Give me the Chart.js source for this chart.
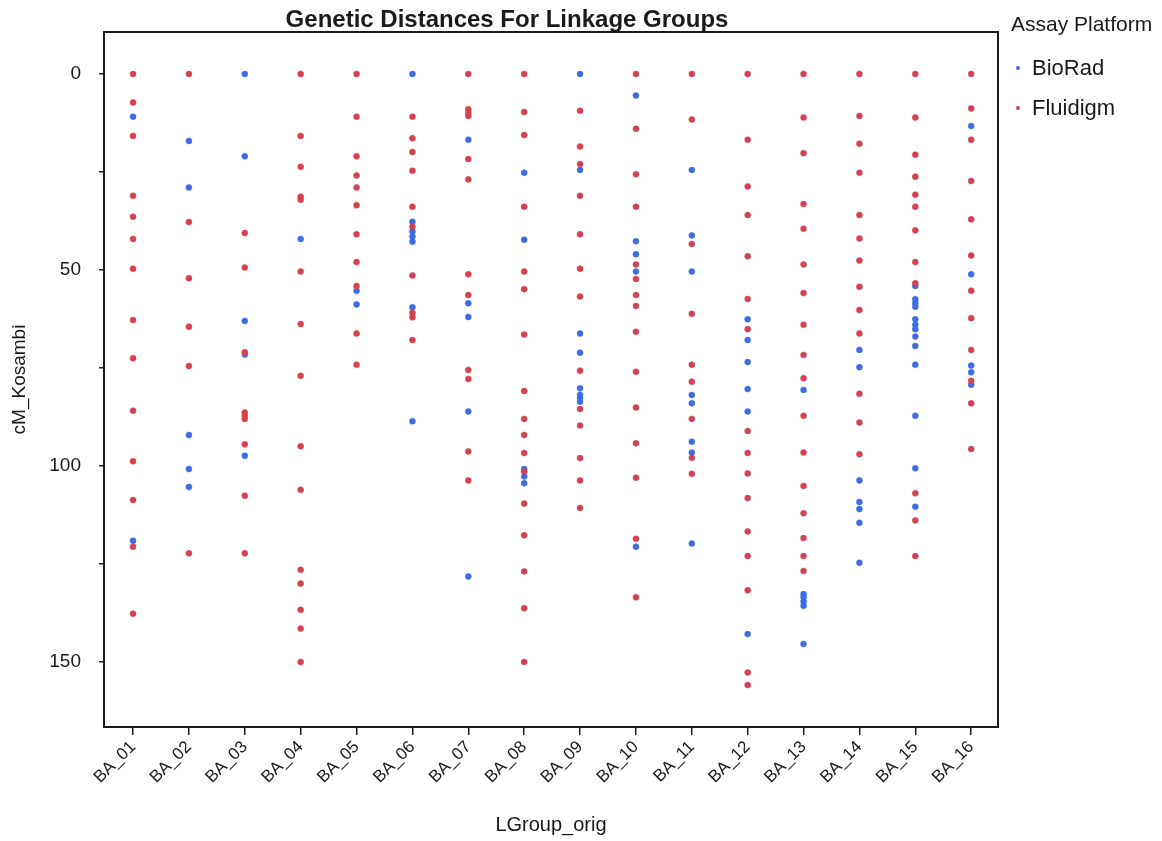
<!DOCTYPE html>
<html>
<head>
<meta charset="utf-8">
<script src="https://cdn.jsdelivr.net/npm/chart.js@4/dist/chart.umd.min.js"></script>
<style>
  body { margin: 0; background: #fff; }
  canvas { display: block; }
</style>
</head>
<body>
<canvas id="chart" width="1162" height="841"></canvas>
<script>
// linkage groups on the x axis
const groups = ['BA_01', 'BA_02', 'BA_03', 'BA_04', 'BA_05', 'BA_06', 'BA_07', 'BA_08',
                'BA_09', 'BA_10', 'BA_11', 'BA_12', 'BA_13', 'BA_14', 'BA_15', 'BA_16'];

// cM_Kosambi positions per group, BioRad markers
const bioRadCM = [
    [10.9, 119.1],
    [17.1, 29, 92.1, 100.8, 105.4],
    [0, 21, 63, 71.6, 97.4],
    [42.1],
    [55.3, 58.8],
    [0, 37.7, 40.2, 41.5, 42.8, 59.5, 88.6],
    [16.8, 58.5, 62, 86.1, 128.2],
    [25.2, 42.3, 100.8, 102.7, 104.4],
    [0, 24.5, 66.2, 71.1, 80.2, 81.9, 82.7, 83.6],
    [5.5, 42.7, 46, 50.4, 120.6],
    [24.5, 41.2, 50.4, 81.9, 84, 93.8, 96.6, 119.8],
    [62.6, 67.9, 73.5, 80.4, 86.1, 142.9],
    [80.6, 132.7, 133.5, 134.6, 135.7, 145.4],
    [70.4, 74.8, 103.7, 109.2, 111, 114.5, 124.7],
    [54.1, 57.5, 58.5, 59.4, 62.6, 64, 65.1, 67, 69.4, 74.2, 87.2, 100.6, 110.4],
    [13.3, 51.1, 74.4, 76.1, 79.3]
];

// cM_Kosambi positions per group, Fluidigm markers
const fluidigmCM = [
    [0, 7.3, 15.8, 31.1, 36.4, 42.1, 49.7, 62.8, 72.5, 85.9, 98.8, 108.7, 120.6, 137.7],
    [0, 37.8, 52.1, 64.5, 74.5, 122.3],
    [40.6, 49.4, 71, 86.4, 87.2, 88, 94.5, 107.6, 122.3],
    [0, 15.8, 23.7, 31.3, 32.1, 50.4, 63.8, 77, 95, 106.1, 126.5, 130, 136.7, 141.5, 150],
    [0, 10.9, 21, 25.9, 29, 33.5, 40.9, 48, 54.1, 66.2, 74.2],
    [10.9, 16.4, 19.9, 24.7, 33.9, 39, 51.4, 60.9, 62.1, 67.9],
    [0, 9, 9.9, 10.7, 21.7, 26.9, 51.1, 56.4, 75.5, 77.8, 96.3, 103.7],
    [0, 9.7, 15.6, 33.9, 50.4, 54.9, 66.5, 80.9, 88, 92.1, 96.7, 101.4, 109.6, 117.7, 126.9, 136.3, 150],
    [9.4, 18.5, 23, 31.1, 40.9, 49.7, 56.8, 75.7, 85.5, 89.7, 98, 103.7, 110.7],
    [0, 14, 25.6, 33.9, 48.6, 52.3, 56.4, 59.2, 65.8, 76, 85.1, 94.2, 103, 118.6, 133.5],
    [0, 11.6, 43.4, 61.2, 74.2, 78.5, 88, 97.9, 102],
    [0, 16.8, 28.7, 36, 46.5, 57.4, 65.1, 91.1, 96.7, 101.9, 108.2, 116.7, 123, 131.7, 152.7, 155.9],
    [0, 11.1, 20.2, 33.2, 39.5, 48.6, 55.9, 64, 71.7, 77.6, 87.2, 96.6, 105.1, 112.1, 118.4, 123, 126.8],
    [0, 10.7, 17.8, 25.2, 36, 42, 47.6, 54.3, 60.2, 66.2, 81.6, 88.9, 97],
    [0, 11.1, 20.6, 26.2, 30.8, 33.9, 39.9, 48, 53.4, 107, 113.9, 123],
    [0, 8.8, 16.8, 27.3, 37.1, 46.3, 55.3, 62.3, 70.4, 78.3, 84, 95.7]
];

const yTicks = [0, 50, 100, 150];
const platforms = ['BioRad', 'Fluidigm'];

const blue = 'rgb(62,108,226)';
const red = 'rgb(214,64,80)';
const ink = '#1a1a1a';

// turn the per-group lists into {x, y} points (x = group index starting at 1)
function toPoints(lists) {
    const pts = [];
    lists.forEach((vals, i) => {
        vals.forEach(v => pts.push({ x: i + 1, y: v }));
    });
    return pts;
}

Chart.defaults.font.family = '"Liberation Sans", Arial, sans-serif';
Chart.defaults.color = ink;

// title, legend and the box around the plot
const decorations = {
    id: 'decorations',
    afterDraw(chart) {
        const ctx = chart.ctx;
        const area = chart.chartArea;
        ctx.save();
        ctx.strokeStyle = ink;
        ctx.lineWidth = 2;
        ctx.strokeRect(area.left, area.top, area.right - area.left, area.bottom - area.top);

        ctx.fillStyle = ink;
        ctx.textBaseline = 'alphabetic';
        ctx.font = 'bold 24px "Liberation Sans", Arial, sans-serif';
        ctx.textAlign = 'center';
        ctx.fillText('Genetic Distances For Linkage Groups', 507, 27);

        ctx.textAlign = 'left';
        ctx.font = '21px "Liberation Sans", Arial, sans-serif';
        ctx.fillText('Assay Platform', 1011, 31);
        ctx.font = '22px "Liberation Sans", Arial, sans-serif';
        const colors = [blue, red];
        platforms.forEach((name, i) => {
            const y = 68 + i * 40;
            ctx.fillStyle = colors[i];
            ctx.beginPath();
            ctx.arc(1018, y, 2, 0, Math.PI * 2);
            ctx.fill();
            ctx.fillStyle = ink;
            ctx.fillText(name, 1032, y + 7);
        });
        ctx.restore();
    }
};

const ctx = document.getElementById('chart').getContext('2d');
new Chart(ctx, {
    type: 'scatter',
    data: {
        datasets: [
            {
                label: platforms[0],
                data: toPoints(bioRadCM),
                backgroundColor: blue,
                borderColor: blue,
                pointRadius: 3,
                borderWidth: 0.5,
                order: 1
            },
            {
                label: platforms[1],
                data: toPoints(fluidigmCM),
                backgroundColor: red,
                borderColor: red,
                pointRadius: 3,
                borderWidth: 0.5,
                order: 0
            }
        ]
    },
    options: {
        responsive: false,
        animation: false,
        layout: { padding: { left: 0, top: 32, right: 164, bottom: 0 } },
        plugins: {
            legend: { display: false },
            title: { display: false },
            tooltip: { enabled: false }
        },
        scales: {
            x: {
                type: 'linear',
                min: 0.48,
                max: 16.48,
                afterBuildTicks: axis => {
                    axis.ticks = groups.map((g, i) => ({ value: i + 1 }));
                },
                afterFit: scale => { scale.height = 114; },
                ticks: {
                    callback: v => groups[v - 1],
                    minRotation: 45,
                    maxRotation: 45,
                    font: { size: 17 },
                    color: ink,
                    padding: 2
                },
                grid: { drawOnChartArea: false, tickLength: 8, color: ink, lineWidth: 1.5 },
                border: { color: ink, width: 2 },
                title: {
                    display: true,
                    text: 'LGroup_orig',
                    font: { size: 20 },
                    color: ink,
                    padding: { top: 0, bottom: 4 }
                }
            },
            y: {
                type: 'linear',
                reverse: true,
                min: -10.7,
                max: 166.6,
                afterBuildTicks: axis => {
                    axis.ticks = [0, 25, 50, 75, 100, 125, 150].map(v => ({ value: v }));
                },
                afterFit: scale => { scale.width = 104; },
                ticks: {
                    callback: v => (yTicks.includes(v) ? v : ''),
                    font: { size: 19 },
                    color: ink,
                    padding: 18
                },
                grid: { drawOnChartArea: false, tickLength: 5, color: ink, lineWidth: 1.5 },
                border: { color: ink, width: 2 },
                title: {
                    display: true,
                    text: 'cM_Kosambi',
                    font: { size: 19 },
                    color: ink,
                    padding: { top: 8, bottom: 0 }
                }
            }
        }
    },
    plugins: [decorations]
});
</script>
</body>
</html>
